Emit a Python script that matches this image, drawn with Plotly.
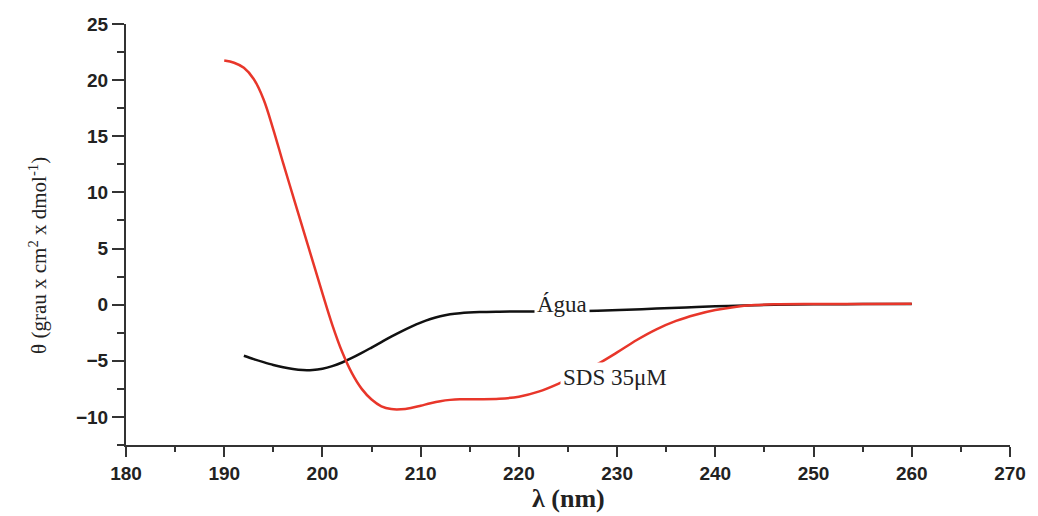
import plotly.graph_objects as go

# SDS 35 µM (red)
sds_nm = [190, 191, 192, 193, 194, 195, 196, 197, 198, 199, 200, 201, 202, 203, 204,
          205, 206, 207, 208, 209, 210, 211, 212, 213, 214, 216, 218, 220, 222, 224,
          226, 228, 230, 232, 234, 236, 238, 240, 242, 244, 246, 250, 255, 260]
sds_theta = [21.75, 21.55, 21.1, 20.1, 18.3, 15.6, 12.6, 9.7, 6.8, 3.9, 1.0, -1.8, -4.2, -6.1, -7.5,
             -8.45, -9.05, -9.3, -9.32, -9.2, -9.0, -8.78, -8.6, -8.48, -8.42, -8.42, -8.38, -8.2, -7.75, -7.05,
             -6.2, -5.3, -4.25, -3.15, -2.2, -1.45, -0.9, -0.48, -0.2, -0.04, 0.03, 0.06, 0.07, 0.08]

# Água (black)
agua_nm = [192, 193, 194, 195, 196, 197, 198, 199, 200, 201, 202, 203, 204, 205, 206,
           207, 208, 209, 210, 211, 212, 213, 214, 216, 218, 220, 222, 225, 228, 231,
           234, 237, 240, 243, 246, 250, 255, 260]
agua_theta = [-4.55, -4.85, -5.12, -5.37, -5.58, -5.74, -5.83, -5.82, -5.7, -5.47, -5.15, -4.75, -4.3, -3.82, -3.33,
              -2.85, -2.4, -1.98, -1.6, -1.28, -1.03, -0.86, -0.76, -0.66, -0.62, -0.6, -0.6, -0.59, -0.54, -0.45,
              -0.35, -0.25, -0.15, -0.07, -0.01, 0.03, 0.05, 0.06]

x_ticks = [180, 190, 200, 210, 220, 230, 240, 250, 260, 270]
y_ticks = [-10, -5, 0, 5, 10, 15, 20, 25]

axis_color = "#333333"
tick_font = dict(family="Liberation Sans, Arial, sans-serif", size=19, color="#222222", weight="bold")

fig = go.Figure()
fig.add_trace(go.Scatter(x=agua_nm, y=agua_theta, mode="lines",
                         line=dict(color="#111111", width=2.5, shape="spline", smoothing=1.0),
                         name="Água", showlegend=False))
fig.add_trace(go.Scatter(x=sds_nm, y=sds_theta, mode="lines",
                         line=dict(color="#e8362a", width=2.5, shape="spline", smoothing=1.0),
                         name="SDS 35μM", showlegend=False))

fig.update_layout(
    width=1038, height=516,
    margin=dict(l=126, r=20, t=24, b=71),
    paper_bgcolor="white", plot_bgcolor="white",
    xaxis=dict(range=[180, 270], tickvals=x_ticks, showline=True, linewidth=2, linecolor=axis_color,
               ticks="outside", ticklen=10, tickwidth=2, tickcolor=axis_color,
               minor=dict(dtick=5, ticks="outside", ticklen=5, tickwidth=2, tickcolor=axis_color),
               showgrid=False, zeroline=False, tickfont=tick_font),
    yaxis=dict(range=[-12.5, 25], tickvals=y_ticks, showline=True, linewidth=2, linecolor=axis_color,
               ticks="outside", ticklen=12, tickwidth=2, tickcolor=axis_color,
               minor=dict(dtick=2.5, tick0=0, ticks="outside", ticklen=7, tickwidth=2, tickcolor=axis_color),
               showgrid=False, zeroline=False, tickfont=tick_font),
)

serif = "Liberation Serif, Times New Roman, serif"
fig.add_annotation(text="θ (grau x cm<sup>2</sup> x dmol<sup>-1</sup>)", xref="paper", yref="paper",
                   x=-0.0998, y=0.451, xanchor="center", yanchor="middle", textangle=-90, showarrow=False,
                   font=dict(family=serif, size=21, color="#222222"))
fig.add_annotation(text="<b>λ (nm)</b>", xref="paper", yref="paper", x=0.5, y=-0.128,
                   xanchor="center", yanchor="middle",
                   showarrow=False, font=dict(family=serif, size=26, color="#222222"))
fig.add_annotation(text="Água", x=224.4, y=0.05, xanchor="center", yanchor="middle",
                   showarrow=False, bgcolor="white", borderpad=2,
                   font=dict(family=serif, size=23, color="#222222"))
fig.add_annotation(text="SDS 35μM", x=229.8, y=-6.5, xanchor="center", yanchor="middle",
                   showarrow=False, bgcolor="white", borderpad=2,
                   font=dict(family=serif, size=23, color="#222222"))

fig.write_html("out.html")
